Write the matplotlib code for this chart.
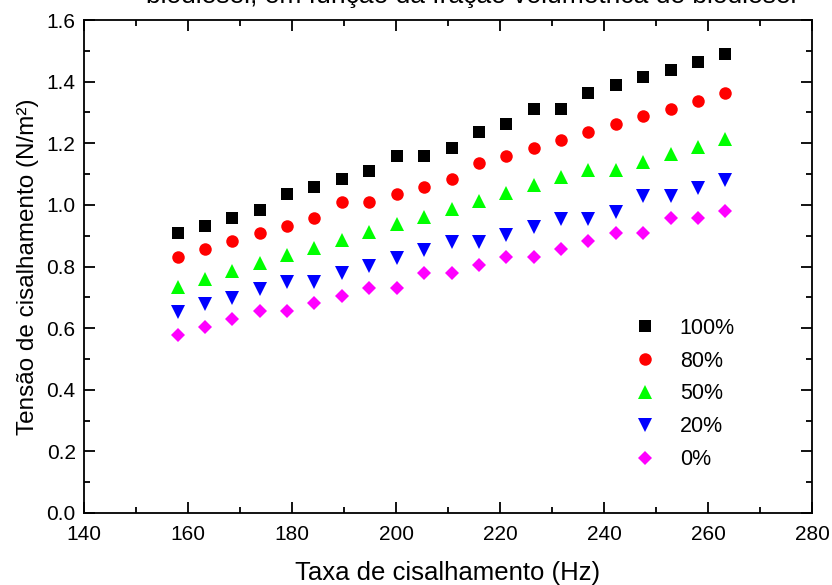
import matplotlib
matplotlib.use("Agg")
import matplotlib.pyplot as plt
from matplotlib.ticker import MultipleLocator

plt.rcParams['font.family'] = ['Liberation Sans', 'DejaVu Sans']

# shear rate (Hz)
taxa = [158.0, 163.3, 168.5, 173.8, 179.1, 184.3, 189.6, 194.9, 200.1, 205.4,
        210.7, 215.9, 221.2, 226.5, 231.7, 237.0, 242.3, 247.5, 252.8, 258.1, 263.3]

# shear stress (N/m2) per biodiesel fraction
t100 = [0.908, 0.933, 0.959, 0.984, 1.035, 1.059, 1.084, 1.110, 1.160, 1.160,
        1.186, 1.237, 1.262, 1.312, 1.312, 1.363, 1.389, 1.414, 1.438, 1.464, 1.489]
t80 = [0.832, 0.857, 0.882, 0.908, 0.933, 0.959, 1.009, 1.009, 1.035, 1.059,
       1.084, 1.135, 1.160, 1.186, 1.211, 1.237, 1.262, 1.287, 1.312, 1.338, 1.363]
t50 = [0.735, 0.760, 0.786, 0.811, 0.837, 0.861, 0.886, 0.911, 0.937, 0.962,
       0.987, 1.013, 1.038, 1.063, 1.089, 1.114, 1.114, 1.139, 1.165, 1.189, 1.214]
t20 = [0.652, 0.678, 0.699, 0.726, 0.751, 0.751, 0.778, 0.802, 0.827, 0.854,
       0.879, 0.879, 0.903, 0.928, 0.954, 0.954, 0.978, 1.030, 1.030, 1.055, 1.081]
t0 = [0.578, 0.603, 0.630, 0.654, 0.654, 0.681, 0.705, 0.730, 0.730, 0.780,
      0.780, 0.805, 0.832, 0.832, 0.857, 0.883, 0.908, 0.908, 0.957, 0.957, 0.981]

labels = ["100%", "80%", "50%", "20%", "0%"]
series = [t100, t80, t50, t20, t0]
colors = ["black", "red", "#00ff00", "blue", "magenta"]
markers = ["s", "o", "^", "v", "D"]
sizes = [8, 9, 10, 10, 7.5]

fig = plt.figure(figsize=(8.32, 5.85), dpi=100)
ax = fig.add_axes([84 / 832, 1 - 513 / 585, (812 - 84) / 832, (513 - 20) / 585])

for ys, lab, c, m, s in zip(series, labels, colors, markers, sizes):
    ax.plot(taxa, ys, linestyle='none', marker=m, color=c, markersize=s,
            markeredgewidth=0, label=lab)

ax.set_xlim(140, 280)
ax.set_ylim(0, 1.6)
ax.xaxis.set_major_locator(MultipleLocator(20))
ax.xaxis.set_minor_locator(MultipleLocator(10))
ax.yaxis.set_major_locator(MultipleLocator(0.2))
ax.yaxis.set_minor_locator(MultipleLocator(0.1))
ax.yaxis.set_major_formatter(plt.FuncFormatter(lambda v, p: f"{v:.1f}"))
ax.tick_params(which='both', direction='in', top=True, right=True, width=1.3,
               labelsize=15)
ax.tick_params(which='major', length=8)
ax.tick_params(which='minor', length=4)
ax.tick_params(axis='x', which='major', pad=9)
ax.tick_params(axis='y', which='major', pad=6)
for sp in ax.spines.values():
    sp.set_linewidth(1.3)

ax.set_xlabel("Taxa de cisalhamento (Hz)", fontsize=18.5, labelpad=12)
ax.set_ylabel("Tensão de cisalhamento (N/m²)", fontsize=17.5, labelpad=5)

ax.legend(loc='lower right', bbox_to_anchor=(0.894, 0.087), frameon=False,
          fontsize=15.5, handletextpad=0.6, labelspacing=0.55,
          borderaxespad=0, borderpad=0)

# title cut off at the top of the original image
fig.text(471 / 832, 1 - 3 / 585, "biodiesel, em função da fração volumétrica de biodiesel",
         ha='center', va='baseline', fontsize=19)

fig.savefig("out.png", dpi=100)
